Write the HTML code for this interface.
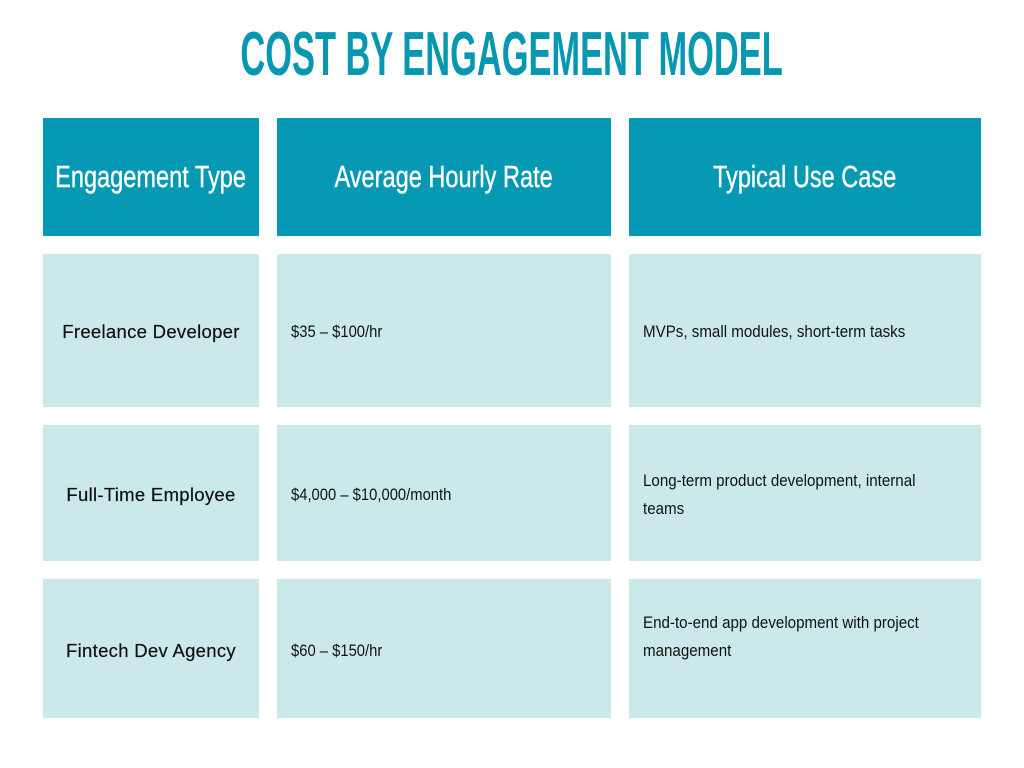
<!DOCTYPE html>
<html><head><meta charset="utf-8"><style>
body{margin:0;width:1024px;height:768px;background:#fff;position:relative;overflow:hidden;font-family:"Liberation Sans",sans-serif}
.t{position:absolute;left:0;width:1024px;top:22px;text-align:center;color:#0697b1;font-weight:bold;font-size:62px;line-height:66px}
.t span{display:inline-block;transform:scaleX(0.555);transform-origin:center}
.c{position:absolute;box-sizing:border-box;display:flex;align-items:center}
.h{background:#0599b3;color:#fff;justify-content:center;font-size:31px}
.h span{display:inline-block;transform:scaleX(0.76);white-space:nowrap;-webkit-text-stroke:0.4px #fff}
.b{background:#cbe9ea;color:#111;font-size:17px}
.b1{justify-content:center;font-size:18.5px;letter-spacing:0.3px;-webkit-text-stroke:0.2px #111}
.b2 span,.b3 span{display:inline-block;transform:scaleX(0.87);transform-origin:left center;line-height:28px;white-space:nowrap}
.b3 span{transform:scaleX(0.89);white-space:normal;width:322px}
.b2,.b3{padding-left:14px}
</style></head><body>
<div class="t"><span>COST BY ENGAGEMENT MODEL</span></div>

<div class="c h" style="left:43px;top:118px;width:216px;height:118px"><span>Engagement Type</span></div>
<div class="c h" style="left:277px;top:118px;width:334px;height:118px"><span>Average Hourly Rate</span></div>
<div class="c h" style="left:629px;top:118px;width:352px;height:118px"><span>Typical Use Case</span></div>

<div class="c b b1" style="left:43px;top:254px;width:216px;height:153px;padding-top:2px">Freelance Developer</div>
<div class="c b b2" style="left:277px;top:254px;width:334px;height:153px;padding-top:2px"><span>$35 – $100/hr</span></div>
<div class="c b b3" style="left:629px;top:254px;width:352px;height:153px;padding-top:2px"><span>MVPs, small modules, short-term tasks</span></div>

<div class="c b b1" style="left:43px;top:425px;width:216px;height:136px;padding-top:4px">Full-Time Employee</div>
<div class="c b b2" style="left:277px;top:425px;width:334px;height:136px;padding-top:4px"><span>$4,000 – $10,000/month</span></div>
<div class="c b b3" style="left:629px;top:425px;width:352px;height:136px;padding-top:4px"><span>Long-term product development, internal teams</span></div>

<div class="c b b1" style="left:43px;top:579px;width:216px;height:139px;padding-top:4px">Fintech Dev Agency</div>
<div class="c b b2" style="left:277px;top:579px;width:334px;height:139px;padding-top:4px"><span>$60 – $150/hr</span></div>
<div class="c b b3" style="left:629px;top:579px;width:352px;height:139px;align-items:flex-start;padding-top:30px"><span>End-to-end app development with project management</span></div>
</body></html>
